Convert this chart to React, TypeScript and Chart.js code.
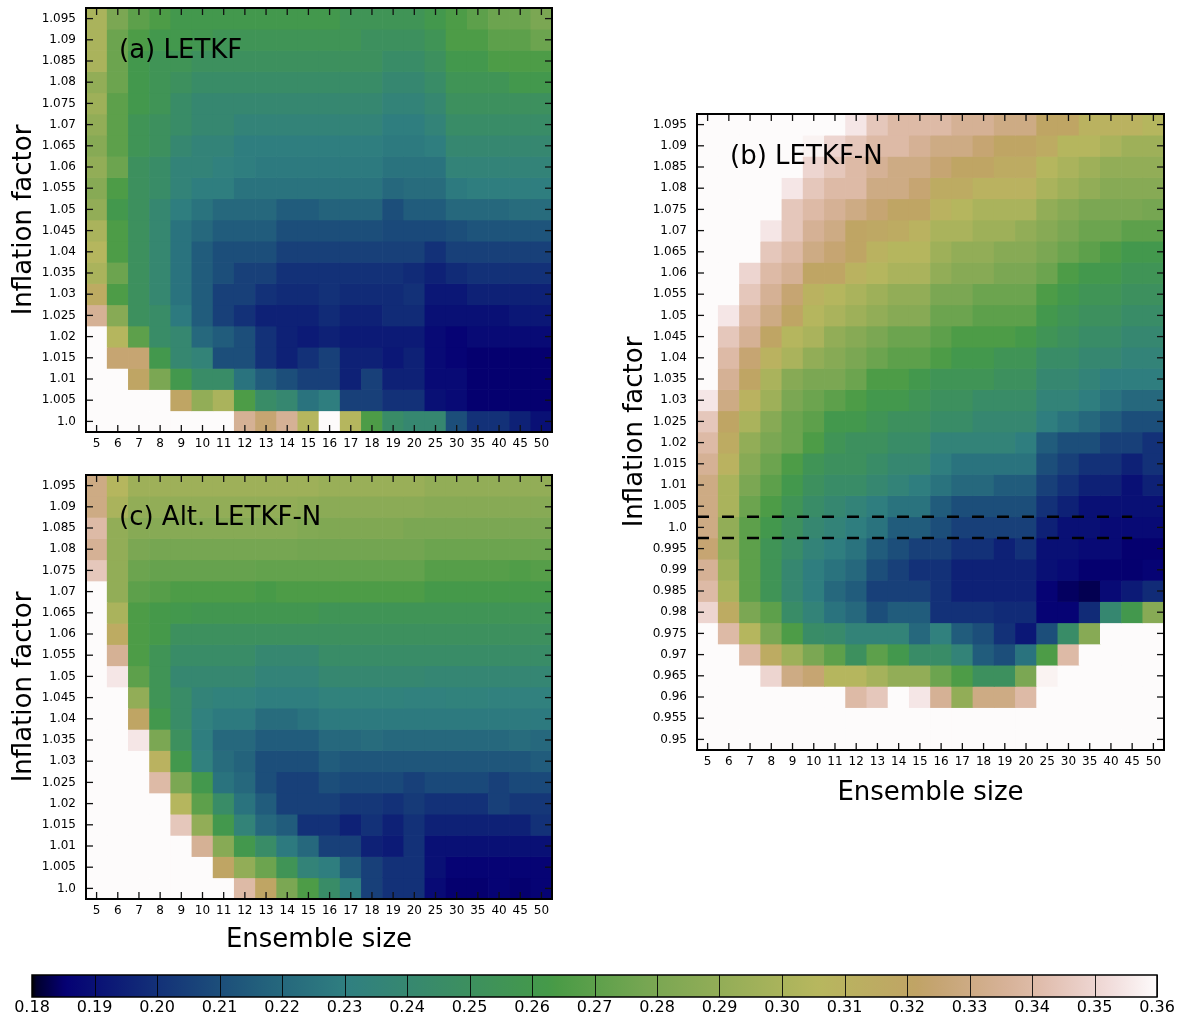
import React, { useEffect, useRef } from 'react';
import { Chart, registerables } from 'chart.js';

Chart.register(...registerables);
Chart.defaults.font.family = '"DejaVu Sans", sans-serif';
Chart.defaults.font.size = 12;
Chart.defaults.color = '#000';

type Cell = number | null; // null = filter diverged (drawn with the top colour)

// ---------------- data ----------------
const ensembleSizes = ['5', '6', '7', '8', '9', '10', '11', '12', '13', '14', '15', '16', '17', '18', '19', '20', '25', '30', '35', '40', '45', '50'];

const inflationAC = [1.095, 1.09, 1.085, 1.08, 1.075, 1.07, 1.065, 1.06, 1.055, 1.05, 1.045, 1.04, 1.035, 1.03, 1.025, 1.02, 1.015, 1.01, 1.005, 1.0];

const inflationB = [1.095, 1.09, 1.085, 1.08, 1.075, 1.07, 1.065, 1.06, 1.055, 1.05, 1.045, 1.04, 1.035, 1.03, 1.025, 1.02, 1.015, 1.01, 1.005, 1.0,
  0.995, 0.99, 0.985, 0.98, 0.975, 0.97, 0.965, 0.96, 0.955, 0.95];

// (a) LETKF — rows follow inflationAC, columns follow ensembleSizes
const rmseLETKF: Cell[][] = [
  [0.30, 0.28, 0.27, 0.265, 0.26, 0.26, 0.26, 0.26, 0.26, 0.26, 0.26, 0.26, 0.255, 0.255, 0.255, 0.255, 0.26, 0.265, 0.27, 0.275, 0.275, 0.28],
  [0.30, 0.275, 0.265, 0.26, 0.26, 0.258, 0.255, 0.255, 0.255, 0.255, 0.255, 0.255, 0.255, 0.25, 0.25, 0.25, 0.255, 0.265, 0.265, 0.27, 0.27, 0.275],
  [0.30, 0.275, 0.26, 0.255, 0.255, 0.25, 0.25, 0.25, 0.25, 0.25, 0.25, 0.25, 0.25, 0.25, 0.245, 0.245, 0.25, 0.26, 0.26, 0.265, 0.265, 0.265],
  [0.29, 0.275, 0.26, 0.255, 0.25, 0.245, 0.245, 0.245, 0.245, 0.245, 0.245, 0.245, 0.245, 0.245, 0.24, 0.24, 0.245, 0.255, 0.255, 0.255, 0.26, 0.26],
  [0.295, 0.27, 0.26, 0.255, 0.245, 0.24, 0.24, 0.24, 0.24, 0.24, 0.24, 0.24, 0.24, 0.24, 0.235, 0.235, 0.24, 0.25, 0.25, 0.25, 0.25, 0.25],
  [0.29, 0.27, 0.255, 0.25, 0.245, 0.24, 0.24, 0.235, 0.235, 0.235, 0.235, 0.235, 0.235, 0.235, 0.23, 0.23, 0.235, 0.245, 0.245, 0.245, 0.245, 0.245],
  [0.285, 0.27, 0.255, 0.25, 0.24, 0.235, 0.235, 0.23, 0.23, 0.23, 0.23, 0.23, 0.23, 0.23, 0.228, 0.228, 0.23, 0.24, 0.24, 0.24, 0.24, 0.24],
  [0.29, 0.275, 0.25, 0.245, 0.235, 0.235, 0.232, 0.23, 0.228, 0.228, 0.228, 0.228, 0.228, 0.228, 0.225, 0.225, 0.225, 0.235, 0.235, 0.235, 0.235, 0.235],
  [0.285, 0.265, 0.25, 0.245, 0.235, 0.23, 0.23, 0.225, 0.225, 0.225, 0.225, 0.225, 0.225, 0.225, 0.22, 0.222, 0.222, 0.228, 0.23, 0.23, 0.23, 0.23],
  [0.29, 0.26, 0.25, 0.24, 0.23, 0.225, 0.22, 0.22, 0.22, 0.215, 0.215, 0.218, 0.218, 0.218, 0.21, 0.215, 0.215, 0.22, 0.22, 0.22, 0.222, 0.222],
  [0.30, 0.265, 0.25, 0.24, 0.225, 0.22, 0.215, 0.215, 0.215, 0.21, 0.21, 0.21, 0.21, 0.21, 0.208, 0.208, 0.208, 0.21, 0.212, 0.212, 0.212, 0.212],
  [0.305, 0.265, 0.25, 0.24, 0.225, 0.215, 0.21, 0.21, 0.21, 0.205, 0.205, 0.205, 0.205, 0.205, 0.205, 0.205, 0.2, 0.205, 0.205, 0.205, 0.205, 0.205],
  [0.30, 0.275, 0.25, 0.24, 0.225, 0.215, 0.21, 0.205, 0.205, 0.2, 0.2, 0.2, 0.2, 0.2, 0.2, 0.198, 0.195, 0.198, 0.2, 0.2, 0.2, 0.2],
  [0.315, 0.265, 0.25, 0.24, 0.225, 0.215, 0.205, 0.205, 0.2, 0.198, 0.198, 0.2, 0.198, 0.198, 0.198, 0.2, 0.192, 0.192, 0.195, 0.195, 0.195, 0.195],
  [0.335, 0.285, 0.25, 0.245, 0.228, 0.215, 0.205, 0.2, 0.195, 0.195, 0.195, 0.198, 0.195, 0.195, 0.198, 0.198, 0.19, 0.19, 0.19, 0.19, 0.192, 0.192],
  [null, 0.305, 0.27, 0.245, 0.24, 0.22, 0.215, 0.21, 0.2, 0.195, 0.193, 0.195, 0.193, 0.193, 0.193, 0.193, 0.188, 0.186, 0.188, 0.188, 0.188, 0.188],
  [null, 0.325, 0.325, 0.26, 0.24, 0.235, 0.21, 0.21, 0.2, 0.195, 0.2, 0.205, 0.195, 0.195, 0.192, 0.195, 0.188, 0.186, 0.185, 0.185, 0.185, 0.185],
  [null, null, 0.32, 0.28, 0.26, 0.245, 0.245, 0.225, 0.215, 0.21, 0.205, 0.205, 0.195, 0.205, 0.195, 0.195, 0.188, 0.188, 0.185, 0.185, 0.185, 0.185],
  [null, null, null, null, 0.32, 0.29, 0.30, 0.265, 0.245, 0.24, 0.225, 0.23, 0.205, 0.205, 0.2, 0.2, 0.19, 0.188, 0.185, 0.185, 0.185, 0.185],
  [null, null, null, null, null, null, null, 0.335, 0.325, 0.335, 0.305, null, 0.305, 0.265, 0.245, 0.24, 0.24, 0.21, 0.2, 0.2, 0.195, 0.19],
];

// (b) LETKF-N — rows follow inflationB
const rmseLETKFN: Cell[][] = [
  [null, null, null, null, null, null, null, 0.355, 0.345, 0.34, 0.34, 0.34, 0.335, 0.335, 0.33, 0.33, 0.32, 0.32, 0.31, 0.31, 0.31, 0.305],
  [null, null, null, null, null, 0.358, 0.35, 0.345, 0.34, 0.34, 0.335, 0.33, 0.33, 0.325, 0.32, 0.32, 0.315, 0.305, 0.305, 0.30, 0.295, 0.295],
  [null, null, null, null, null, 0.35, 0.345, 0.34, 0.335, 0.33, 0.33, 0.325, 0.32, 0.32, 0.315, 0.315, 0.305, 0.30, 0.295, 0.29, 0.29, 0.29],
  [null, null, null, null, 0.355, 0.345, 0.34, 0.34, 0.33, 0.33, 0.325, 0.315, 0.315, 0.31, 0.31, 0.31, 0.30, 0.295, 0.29, 0.285, 0.285, 0.285],
  [null, null, null, null, 0.345, 0.34, 0.335, 0.33, 0.325, 0.32, 0.32, 0.31, 0.305, 0.30, 0.30, 0.30, 0.29, 0.285, 0.28, 0.28, 0.28, 0.278],
  [null, null, null, 0.355, 0.345, 0.335, 0.33, 0.32, 0.318, 0.315, 0.31, 0.30, 0.30, 0.295, 0.295, 0.29, 0.285, 0.28, 0.275, 0.275, 0.27, 0.27],
  [null, null, 0.36, 0.345, 0.34, 0.33, 0.325, 0.32, 0.31, 0.305, 0.305, 0.295, 0.29, 0.29, 0.285, 0.285, 0.28, 0.275, 0.27, 0.265, 0.26, 0.26],
  [null, null, 0.35, 0.34, 0.335, 0.32, 0.32, 0.31, 0.305, 0.30, 0.30, 0.29, 0.285, 0.285, 0.28, 0.28, 0.275, 0.265, 0.26, 0.26, 0.255, 0.255],
  [null, null, 0.345, 0.335, 0.325, 0.31, 0.305, 0.30, 0.295, 0.29, 0.29, 0.28, 0.28, 0.275, 0.275, 0.275, 0.265, 0.26, 0.255, 0.255, 0.25, 0.25],
  [null, 0.355, 0.34, 0.33, 0.32, 0.305, 0.30, 0.295, 0.29, 0.285, 0.285, 0.275, 0.275, 0.27, 0.27, 0.27, 0.26, 0.255, 0.25, 0.25, 0.245, 0.245],
  [null, 0.345, 0.335, 0.32, 0.305, 0.30, 0.29, 0.285, 0.28, 0.275, 0.275, 0.27, 0.265, 0.265, 0.265, 0.262, 0.255, 0.25, 0.245, 0.245, 0.24, 0.24],
  [null, 0.34, 0.325, 0.31, 0.30, 0.29, 0.285, 0.28, 0.275, 0.27, 0.27, 0.265, 0.26, 0.26, 0.255, 0.255, 0.245, 0.245, 0.24, 0.24, 0.235, 0.235],
  [null, 0.335, 0.32, 0.30, 0.285, 0.28, 0.28, 0.275, 0.265, 0.265, 0.26, 0.255, 0.255, 0.255, 0.25, 0.25, 0.24, 0.24, 0.235, 0.23, 0.23, 0.23],
  [0.355, 0.33, 0.31, 0.295, 0.28, 0.275, 0.27, 0.265, 0.26, 0.26, 0.255, 0.25, 0.25, 0.245, 0.245, 0.245, 0.235, 0.235, 0.23, 0.225, 0.22, 0.22],
  [0.345, 0.32, 0.30, 0.285, 0.275, 0.27, 0.26, 0.26, 0.255, 0.25, 0.25, 0.245, 0.245, 0.24, 0.24, 0.24, 0.23, 0.225, 0.22, 0.215, 0.21, 0.21],
  [0.34, 0.315, 0.29, 0.28, 0.275, 0.265, 0.255, 0.25, 0.25, 0.245, 0.245, 0.235, 0.235, 0.235, 0.235, 0.23, 0.215, 0.21, 0.21, 0.205, 0.205, 0.2],
  [0.335, 0.31, 0.285, 0.275, 0.265, 0.255, 0.25, 0.25, 0.245, 0.24, 0.24, 0.23, 0.225, 0.225, 0.225, 0.225, 0.21, 0.205, 0.2, 0.2, 0.195, 0.2],
  [0.33, 0.30, 0.28, 0.27, 0.26, 0.25, 0.245, 0.245, 0.24, 0.235, 0.23, 0.225, 0.22, 0.22, 0.215, 0.215, 0.205, 0.2, 0.195, 0.195, 0.19, 0.195],
  [0.33, 0.30, 0.275, 0.265, 0.255, 0.245, 0.24, 0.235, 0.23, 0.225, 0.225, 0.215, 0.21, 0.21, 0.21, 0.21, 0.2, 0.195, 0.19, 0.19, 0.19, 0.19],
  [0.33, 0.29, 0.27, 0.26, 0.25, 0.24, 0.235, 0.23, 0.225, 0.215, 0.215, 0.21, 0.205, 0.205, 0.205, 0.205, 0.195, 0.19, 0.19, 0.188, 0.188, 0.188],
  [0.325, 0.29, 0.27, 0.255, 0.245, 0.235, 0.23, 0.225, 0.215, 0.21, 0.205, 0.205, 0.2, 0.2, 0.195, 0.2, 0.19, 0.19, 0.188, 0.188, 0.185, 0.185],
  [0.335, 0.295, 0.27, 0.255, 0.24, 0.23, 0.225, 0.22, 0.21, 0.205, 0.2, 0.2, 0.195, 0.195, 0.195, 0.195, 0.19, 0.188, 0.185, 0.185, 0.185, 0.186],
  [0.34, 0.30, 0.27, 0.255, 0.24, 0.23, 0.22, 0.215, 0.205, 0.205, 0.205, 0.2, 0.195, 0.195, 0.195, 0.195, 0.186, 0.184, 0.183, 0.188, 0.193, 0.198],
  [0.35, 0.315, 0.28, 0.27, 0.245, 0.235, 0.225, 0.22, 0.21, 0.215, 0.215, 0.2, 0.2, 0.2, 0.198, 0.198, 0.186, 0.186, 0.198, 0.24, 0.26, 0.285],
  [null, 0.34, 0.305, 0.28, 0.265, 0.245, 0.243, 0.235, 0.235, 0.235, 0.22, 0.232, 0.215, 0.21, 0.2, 0.192, 0.21, 0.245, 0.285, null, null, null],
  [null, null, 0.34, 0.315, 0.295, 0.28, 0.27, 0.25, 0.27, 0.26, 0.245, 0.245, 0.235, 0.215, 0.21, 0.225, 0.265, 0.34, null, null, null, null],
  [null, null, null, 0.35, 0.33, 0.325, 0.305, 0.305, 0.298, 0.29, 0.29, 0.275, 0.265, 0.25, 0.25, 0.28, 0.358, null, null, null, null, null],
  [null, null, null, null, null, null, null, 0.34, 0.345, null, 0.355, 0.335, 0.29, 0.33, 0.33, 0.34, null, null, null, null, null, null],
  [null, null, null, null, null, null, null, null, null, null, null, null, null, null, null, null, null, null, null, null, null, null],
  [null, null, null, null, null, null, null, null, null, null, null, null, null, null, null, null, null, null, null, null, null, null],
];

// (c) Alt. LETKF-N — rows follow inflationAC
const rmseAltLETKFN: Cell[][] = [
  [0.33, 0.305, 0.295, 0.295, 0.295, 0.295, 0.295, 0.295, 0.295, 0.295, 0.295, 0.293, 0.293, 0.293, 0.293, 0.293, 0.29, 0.29, 0.29, 0.29, 0.29, 0.29],
  [0.33, 0.30, 0.29, 0.29, 0.29, 0.29, 0.29, 0.29, 0.29, 0.29, 0.288, 0.287, 0.287, 0.287, 0.287, 0.287, 0.285, 0.285, 0.285, 0.285, 0.285, 0.285],
  [0.34, 0.29, 0.285, 0.285, 0.285, 0.285, 0.285, 0.285, 0.285, 0.285, 0.283, 0.282, 0.282, 0.282, 0.282, 0.28, 0.28, 0.28, 0.28, 0.28, 0.28, 0.28],
  [0.335, 0.29, 0.28, 0.278, 0.278, 0.278, 0.278, 0.278, 0.278, 0.278, 0.277, 0.277, 0.277, 0.277, 0.277, 0.277, 0.275, 0.275, 0.275, 0.275, 0.275, 0.275],
  [0.345, 0.29, 0.275, 0.273, 0.273, 0.273, 0.273, 0.273, 0.272, 0.272, 0.272, 0.272, 0.272, 0.272, 0.272, 0.272, 0.268, 0.268, 0.268, 0.268, 0.266, 0.268],
  [null, 0.29, 0.27, 0.268, 0.265, 0.265, 0.265, 0.265, 0.263, 0.265, 0.265, 0.265, 0.265, 0.265, 0.265, 0.265, 0.262, 0.262, 0.262, 0.262, 0.262, 0.262],
  [null, 0.30, 0.265, 0.262, 0.26, 0.258, 0.258, 0.258, 0.258, 0.258, 0.258, 0.255, 0.255, 0.255, 0.255, 0.255, 0.255, 0.255, 0.255, 0.255, 0.255, 0.255],
  [null, 0.315, 0.265, 0.262, 0.25, 0.25, 0.25, 0.25, 0.25, 0.25, 0.25, 0.25, 0.25, 0.25, 0.25, 0.25, 0.25, 0.25, 0.25, 0.25, 0.25, 0.25],
  [null, 0.335, 0.265, 0.255, 0.245, 0.245, 0.245, 0.245, 0.24, 0.24, 0.24, 0.245, 0.245, 0.245, 0.245, 0.245, 0.245, 0.245, 0.245, 0.245, 0.245, 0.245],
  [null, 0.355, 0.27, 0.255, 0.24, 0.24, 0.24, 0.24, 0.235, 0.235, 0.235, 0.24, 0.24, 0.24, 0.24, 0.24, 0.238, 0.238, 0.238, 0.238, 0.238, 0.238],
  [null, null, 0.29, 0.255, 0.245, 0.235, 0.233, 0.233, 0.23, 0.23, 0.23, 0.233, 0.233, 0.233, 0.233, 0.232, 0.232, 0.233, 0.233, 0.232, 0.232, 0.232],
  [null, null, 0.32, 0.26, 0.245, 0.232, 0.228, 0.228, 0.222, 0.222, 0.225, 0.228, 0.228, 0.228, 0.228, 0.228, 0.228, 0.228, 0.228, 0.228, 0.228, 0.228],
  [null, null, 0.355, 0.28, 0.25, 0.23, 0.22, 0.22, 0.215, 0.215, 0.215, 0.22, 0.22, 0.222, 0.22, 0.22, 0.22, 0.22, 0.22, 0.22, 0.222, 0.22],
  [null, null, null, 0.31, 0.26, 0.232, 0.222, 0.218, 0.21, 0.21, 0.21, 0.215, 0.213, 0.213, 0.213, 0.213, 0.213, 0.213, 0.213, 0.213, 0.213, 0.215],
  [null, null, null, 0.34, 0.28, 0.26, 0.225, 0.22, 0.21, 0.205, 0.205, 0.21, 0.208, 0.208, 0.208, 0.205, 0.208, 0.208, 0.208, 0.205, 0.208, 0.208],
  [null, null, null, null, 0.305, 0.27, 0.245, 0.225, 0.215, 0.205, 0.205, 0.205, 0.202, 0.202, 0.2, 0.203, 0.2, 0.2, 0.2, 0.205, 0.202, 0.202],
  [null, null, null, null, 0.345, 0.29, 0.26, 0.235, 0.22, 0.215, 0.2, 0.2, 0.195, 0.2, 0.195, 0.2, 0.195, 0.195, 0.195, 0.195, 0.195, 0.2],
  [null, null, null, null, null, 0.335, 0.285, 0.26, 0.245, 0.228, 0.22, 0.205, 0.205, 0.195, 0.193, 0.2, 0.19, 0.19, 0.19, 0.19, 0.19, 0.19],
  [null, null, null, null, null, null, 0.32, 0.29, 0.275, 0.255, 0.235, 0.23, 0.215, 0.205, 0.2, 0.2, 0.19, 0.186, 0.186, 0.186, 0.186, 0.186],
  [null, null, null, null, null, null, null, 0.34, 0.32, 0.28, 0.265, 0.245, 0.23, 0.205, 0.2, 0.2, 0.188, 0.185, 0.185, 0.186, 0.185, 0.186],
];

const colorbarTicks = [0.18, 0.19, 0.20, 0.21, 0.22, 0.23, 0.24, 0.25, 0.26, 0.27, 0.28, 0.29, 0.30, 0.31, 0.32, 0.33, 0.34, 0.35, 0.36];
const colorRange = [0.18, 0.36];

// reference band of panel (b): inflation limits and the span (in ensemble-column index units)
const dashedLevels = [1.0025, 0.9975];
const dashedSpan = [-0.5, 20];

// ---------------- gist_earth colormap ----------------
const GE_R = [[0, 0], [0.2824, 0.1882], [0.4588, 0.2714], [0.549, 0.4719], [0.698, 0.7176], [0.7882, 0.7553], [1, 0.9922]];
const GE_G = [[0, 0], [0.0275, 0], [0.1098, 0.1893], [0.1647, 0.3035], [0.2078, 0.3841], [0.2824, 0.502], [0.5216, 0.6397], [0.698, 0.7171],
  [0.7882, 0.6392], [0.7922, 0.6413], [0.8, 0.6447], [0.8078, 0.6481], [0.8157, 0.6549], [0.8667, 0.6991], [0.8745, 0.7103], [0.8824, 0.7216],
  [0.8902, 0.7323], [0.898, 0.743], [0.9412, 0.8275], [0.9569, 0.8635], [0.9647, 0.8816], [0.9961, 0.9733], [1, 0.9843]];
const GE_B = [[0, 0], [0.0039, 0.1684], [0.0078, 0.2212], [0.0275, 0.4329], [0.0314, 0.4549], [0.2824, 0.5004], [0.4667, 0.2748],
  [0.5451, 0.3205], [0.7843, 0.3961], [0.8941, 0.6651], [1, 0.9843]];

function channel(nodes: number[][], t: number): number {
  for (let i = 1; i < nodes.length; i++) {
    if (t <= nodes[i][0]) {
      const [x0, y0] = nodes[i - 1];
      const [x1, y1] = nodes[i];
      return y0 + ((y1 - y0) * (t - x0)) / (x1 - x0);
    }
  }
  return nodes[nodes.length - 1][1];
}
function cmapT(t: number): string {
  const c = (n: number[][]) => Math.round(channel(n, t) * 255);
  return `rgb(${c(GE_R)},${c(GE_G)},${c(GE_B)})`;
}
function colorFor(v: Cell): string {
  const [lo, hi] = colorRange;
  const t = v == null ? 1 : Math.min(1, Math.max(0, (v - lo) / (hi - lo)));
  return cmapT(t);
}

const fmtInflation = (v: number) => {
  const s = String(Number(v.toFixed(3)));
  return s.includes('.') ? s : s + '.0';
};

// ---------------- frame / inward ticks / panel label plugin ----------------
const framePlugin = {
  id: 'frame',
  afterDraw(chart: any, _args: any, opts: any) {
    const { ctx, chartArea: a, scales } = chart;
    ctx.save();
    const seg = (x1: number, y1: number, x2: number, y2: number) => {
      ctx.beginPath(); ctx.moveTo(x1, y1); ctx.lineTo(x2, y2); ctx.stroke();
    };
    if (opts.ticks) {
      ctx.strokeStyle = '#111';
      ctx.lineWidth = 1.3;
      const L = 7;
      const xs = scales.x;
      xs.ticks.forEach((_t: any, i: number) => {
        const px = xs.getPixelForTick(i);
        seg(px, a.top, px, a.top + L);
        seg(px, a.bottom, px, a.bottom - L);
      });
      const ys = scales.y;
      ys.ticks.forEach((_t: any, i: number) => {
        const py = ys.getPixelForTick(i);
        seg(a.left, py, a.left + L, py);
        seg(a.right, py, a.right - L, py);
      });
    }
    if (opts.dividers) {
      ctx.strokeStyle = 'rgba(0,0,0,0.85)';
      ctx.lineWidth = 1;
      const xs = scales.x;
      xs.ticks.forEach((_t: any, i: number) => {
        const px = Math.round(xs.getPixelForTick(i)) + 0.5;
        seg(px, a.top, px, a.bottom);
      });
    }
    ctx.strokeStyle = '#000';
    ctx.lineWidth = opts.lineWidth || 2;
    ctx.strokeRect(a.left, a.top, a.right - a.left, a.bottom - a.top);
    if (opts.label) {
      ctx.font = '26px "DejaVu Sans", sans-serif';
      ctx.fillStyle = '#000';
      ctx.textBaseline = 'alphabetic';
      ctx.textAlign = 'left';
      ctx.fillText(opts.label, a.left + 33, a.top + 50);
    }
    ctx.restore();
  },
};

type Box = { left: number; top: number; width: number; height: number; pl: number; pt: number; pr: number; pb: number };

function HeatPanel(props: {
  grid: Cell[][]; rows: number[]; label: string; box: Box; xTitle: boolean;
  xTitlePad: number; yTitlePad: number; dashed?: boolean;
}) {
  const ref = useRef<HTMLCanvasElement>(null);
  useEffect(() => {
    const { grid, rows, label, box, xTitle, xTitlePad, yTitlePad, dashed } = props;
    const half = Math.abs(rows[0] - rows[1]) / 2;
    const datasets: any[] = [];
    if (dashed) {
      dashedLevels.forEach((lev) => {
        datasets.push({
          type: 'line',
          data: dashedSpan.map((x) => ({ x, y: lev })),
          borderColor: '#000', borderWidth: 2.5, borderDash: [12, 13],
          pointRadius: 0, fill: false, tension: 0,
        });
      });
    }
    rows.forEach((inf, r) => {
      datasets.push({
        type: 'bar',
        data: grid[r].map((_v, c) => ({ x: c, y: [inf - half, inf + half] })),
        backgroundColor: grid[r].map(colorFor),
        borderWidth: 0, barPercentage: 1, categoryPercentage: 1, grouped: false,
      });
    });
    const yMin = Math.min(...rows) - half;
    const yMax = Math.max(...rows) + half;
    const sortedRows = [...rows].sort((a, b) => a - b);
    const chart = new Chart(ref.current!, {
      type: 'bar',
      data: { datasets },
      options: {
        responsive: false,
        animation: false,
        events: [],
        layout: { padding: { left: 0, top: box.pt - box.top, right: box.left + box.width - box.pr, bottom: 0 } },
        plugins: { legend: { display: false }, tooltip: { enabled: false }, frame: { label, ticks: true, lineWidth: 2 } } as any,
        scales: {
          x: {
            type: 'linear', offset: false, min: -0.5, max: ensembleSizes.length - 0.5,
            afterBuildTicks: (s: any) => { s.ticks = ensembleSizes.map((_l, i) => ({ value: i })); },
            grid: { display: false, drawTicks: false }, border: { display: false },
            ticks: { maxRotation: 0, minRotation: 0, autoSkip: false, padding: 5, color: '#000', font: { size: 12 },
              callback: (v: any) => ensembleSizes[Math.round(Number(v))] },
            title: { display: xTitle, text: 'Ensemble size', font: { size: 26 }, color: '#000', padding: { top: 0, bottom: xTitlePad } },
            afterFit: (s: any) => { s.height = box.top + box.height - box.pb; s.paddingLeft = 0; s.paddingRight = 0; },
          },
          y: {
            type: 'linear', min: yMin, max: yMax,
            afterBuildTicks: (s: any) => { s.ticks = sortedRows.map((v) => ({ value: v })); },
            grid: { display: false, drawTicks: false }, border: { display: false },
            ticks: { autoSkip: false, padding: 10, color: '#000', font: { size: 12 }, callback: (v: any) => fmtInflation(Number(v)) },
            title: { display: true, text: 'Inflation factor', font: { size: 26 }, color: '#000', padding: { top: yTitlePad, bottom: 0 } },
            afterFit: (s: any) => { s.width = box.pl - box.left; s.paddingTop = 0; s.paddingBottom = 0; },
          },
        } as any,
      },
      plugins: [framePlugin as any],
    });
    return () => chart.destroy();
  }, []);
  const { box } = props;
  return (
    <canvas ref={ref} width={box.width} height={box.height}
      style={{ position: 'absolute', left: box.left, top: box.top, width: box.width, height: box.height }} />
  );
}

function ColorBar() {
  const ref = useRef<HTMLCanvasElement>(null);
  useEffect(() => {
    const [lo, hi] = colorRange;
    const stops = Array.from(new Set([...GE_R, ...GE_G, ...GE_B].map((n) => n[0]))).sort((a, b) => a - b);
    const chart = new Chart(ref.current!, {
      type: 'bar',
      data: {
        labels: ['RMSE'],
        datasets: [{
          data: [[lo, hi]] as any,
          backgroundColor: (c: any) => {
            const a = c.chart.chartArea;
            if (!a) return 'transparent';
            const g = c.chart.ctx.createLinearGradient(a.left, 0, a.right, 0);
            stops.forEach((t) => g.addColorStop(t, cmapT(t)));
            return g;
          },
          borderWidth: 0, barPercentage: 1, categoryPercentage: 1,
        }],
      },
      options: {
        indexAxis: 'y',
        responsive: false,
        animation: false,
        events: [],
        layout: { padding: { left: 32, top: 10, right: 25, bottom: 0 } },
        plugins: { legend: { display: false }, tooltip: { enabled: false }, frame: { ticks: false, dividers: true, lineWidth: 1.5 } } as any,
        scales: {
          x: {
            type: 'linear', min: lo, max: hi,
            afterBuildTicks: (s: any) => { s.ticks = colorbarTicks.map((v) => ({ value: v })); },
            grid: { display: false, drawTicks: false },
            border: { display: false },
            ticks: { maxRotation: 0, autoSkip: false, padding: 1, color: '#000', font: { size: 16 }, callback: (v: any) => Number(v).toFixed(2) },
            afterFit: (s: any) => { s.height = 24; s.paddingLeft = 0; s.paddingRight = 0; },
          },
          y: { display: false },
        } as any,
      },
      plugins: [framePlugin as any],
    });
    return () => chart.destroy();
  }, []);
  return <canvas ref={ref} width={1182} height={56} style={{ position: 'absolute', left: 0, top: 965, width: 1182, height: 56 }} />;
}

export default function App() {
  return (
    <div style={{ position: 'absolute', left: 0, top: 0, width: 1182, height: 1021, background: '#fff', overflow: 'hidden' }}>
      <HeatPanel grid={rmseLETKF} rows={inflationAC} label="(a) LETKF" xTitle={false} xTitlePad={0} yTitlePad={9}
        box={{ left: 0, top: 0, width: 580, height: 460, pl: 86, pt: 8, pr: 552, pb: 432 }} />
      <HeatPanel grid={rmseAltLETKFN} rows={inflationAC} label="(c) Alt. LETKF-N" xTitle={true} xTitlePad={9} yTitlePad={9}
        box={{ left: 0, top: 462, width: 580, height: 503, pl: 86, pt: 475, pr: 552, pb: 899 }} />
      <HeatPanel grid={rmseLETKFN} rows={inflationB} label="(b) LETKF-N" xTitle={true} xTitlePad={11} yTitlePad={20} dashed
        box={{ left: 600, top: 100, width: 582, height: 720, pl: 697, pt: 114, pr: 1164, pb: 750 }} />
      <ColorBar />
    </div>
  );
}
